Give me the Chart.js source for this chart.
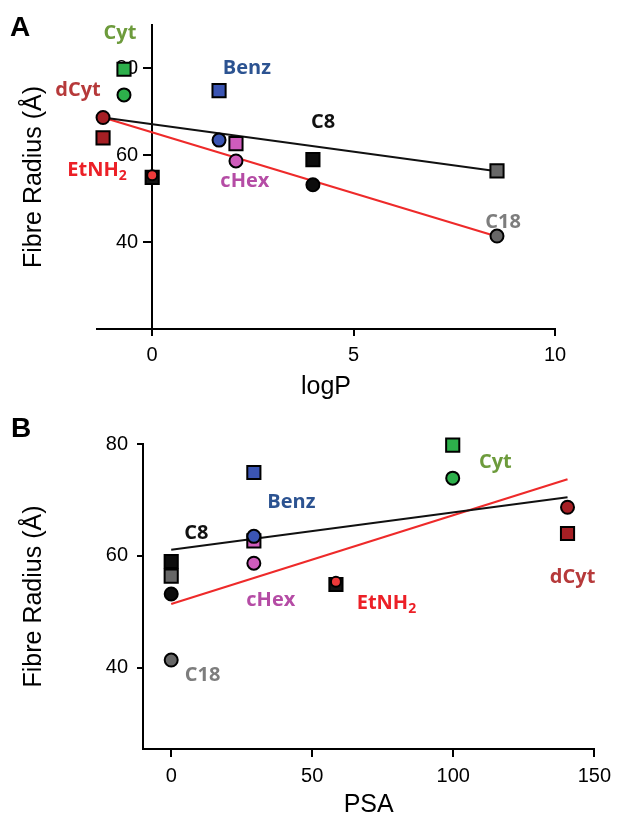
<!DOCTYPE html>
<html>
<head>
<meta charset="utf-8">
<script src="https://cdn.jsdelivr.net/npm/chart.js@4.4.1/dist/chart.umd.min.js"></script>
<style>
    html, body { margin: 0; padding: 0; background: #fff; }
    #wrap { position: relative; width: 618px; height: 820px; overflow: hidden; }
    .panel { position: absolute; left: 0; width: 618px; }
    .letter { position: absolute; font: bold 28px "Liberation Sans", Arial, sans-serif; line-height: 28px; color: #000; }
</style>
</head>
<body>
<div id="wrap">
    <div class="panel" style="top:0;height:400px"><canvas id="chartA" width="618" height="400"></canvas></div>
    <div class="panel" style="top:400px;height:420px"><canvas id="chartB" width="618" height="420"></canvas></div>
    <div class="letter" style="left:10px;top:13px">A</div>
    <div class="letter" style="left:11px;top:414px">B</div>
</div>
<script>
const compounds = ['Cyt', 'dCyt', 'EtNH2', 'Benz', 'cHex', 'C8', 'C18'];
const logP = [-0.70, -1.22, 0, 1.66, 2.08, 3.99, 8.56];
const psa = [99.8, 140.5, 58.4, 29.3, 29.3, 0, 0];
const radiusSquare = [79.8, 64.0, 54.9, 74.9, 62.7, 59.0, 56.4];
const radiusCircle = [73.9, 68.7, 55.4, 63.5, 58.7, 53.2, 41.4];

// end points of the two fitted lines in each panel
const fitLogP = [-1.22, 8.56];
const fitSquareA = [68.7, 56.3];
const fitCircleA = [68.7, 41.3];
const fitPsa = [0, 140.5];
const fitSquareB = [61.1, 70.5];
const fitCircleB = [51.4, 73.7];

const ticksLogP = [0, 5, 10];
const ticksPsa = [0, 50, 100, 150];
const ticksRadius = [40, 60, 80];

// where the compound names sit (data units)
const nameLogP = [-0.80, -1.84, -1.37, 2.35, 2.30, 4.24, 8.71];
const nameRadiusA = [88.2, 75.0, 56.6, 80.1, 53.9, 67.7, 44.6];
const namePsa = [114.9, 142.3, 76.3, 42.6, 35.3, 8.9, 11.1];
const nameRadiusB = [76.8, 56.1, 51.6, 69.6, 52.1, 64.1, 38.7];

const circleColors = ['#2db04b', '#a51f24', '#ee3a3a', '#3b55b3', '#cf5cbc', '#0d0d0d', '#676767'];
const squareColors = ['#2db04b', '#a51f24', '#151515', '#3b55b3', '#cf5cbc', '#0d0d0d', '#676767'];
const circleSizes = [6.5, 6.5, 5, 6.5, 6.5, 6.5, 6.5];
const nameColors = ['#6d9b3c', '#b6393a', '#ec2027', '#2c5391', '#b54ca5', '#111111', '#7d7d7d'];

const tickFont = { family: '"Liberation Sans", Arial, sans-serif', size: 20 };
const titleFont = { family: '"Liberation Sans", Arial, sans-serif', size: 25, lineHeight: 1 };
const nameFamily = '"Open Sans", sans-serif';

function toPoints(xs, ys) {
    return xs.map((x, i) => ({ x: x, y: ys[i] }));
}

// compound names drawn next to the marks
const namePlugin = {
    id: 'names',
    afterDatasetsDraw(chart, args, opts) {
        const { ctx, scales } = chart;
        ctx.save();
        ctx.textBaseline = 'middle';
        compounds.forEach((name, i) => {
            const px = scales.x.getPixelForValue(opts.xs[i]);
            const py = scales.y.getPixelForValue(opts.ys[i]);
            ctx.fillStyle = nameColors[i];
            ctx.font = 'bold 20px ' + nameFamily;
            if (name === 'EtNH2') {
                const w1 = ctx.measureText('EtNH').width;
                ctx.font = 'bold 14px ' + nameFamily;
                const w2 = ctx.measureText('2').width;
                const left = px - (w1 + w2) / 2;
                ctx.textAlign = 'left';
                ctx.fillText('2', left + w1, py + 6);
                ctx.font = 'bold 20px ' + nameFamily;
                ctx.fillText('EtNH', left, py);
            } else {
                ctx.textAlign = 'center';
                ctx.fillText(name, px, py);
            }
        });
        ctx.restore();
    }
};

// a y axis that crosses at x = 0 puts its labels on the line; move them left
const crossLabels = {
    id: 'crossLabels',
    beforeDraw(chart, args, opts) {
        if (!opts.shift) return;
        const x0 = chart.scales.x.getPixelForValue(0);
        chart.scales.y.getLabelItems().forEach(item => {
            item.options.translation[0] = x0 - opts.shift;
        });
    }
};

function buildDatasets(xs, fitX, fitSq, fitCi) {
    return [
        {
            data: toPoints(xs, radiusCircle),
            pointStyle: 'circle',
            pointRadius: circleSizes,
            pointBackgroundColor: circleColors,
            pointBorderColor: '#000',
            pointBorderWidth: 2,
            clip: false,
            order: 0
        },
        {
            data: toPoints(xs, radiusSquare),
            pointStyle: 'rect',
            pointRadius: 9.3,
            pointBackgroundColor: squareColors,
            pointBorderColor: '#000',
            pointBorderWidth: 2,
            clip: false,
            order: 1
        },
        {
            data: toPoints(fitX, fitSq),
            showLine: true,
            borderColor: '#111',
            borderWidth: 2,
            pointRadius: 0,
            clip: false,
            order: 2
        },
        {
            data: toPoints(fitX, fitCi),
            showLine: true,
            borderColor: '#ee2a2a',
            borderWidth: 2.2,
            pointRadius: 0,
            clip: false,
            order: 2
        }
    ];
}

function axisStyle(tickLength, padding) {
    return {
        grid: { display: true, drawOnChartArea: false, drawTicks: true, tickLength: tickLength, color: '#000', lineWidth: 2 },
        border: { display: true, color: '#000', width: 2 },
        ticks: { color: '#000', font: tickFont, padding: padding }
    };
}

// Panel A: radius against logP, y axis crossing at logP = 0
const styleAx = axisStyle(7, 7);
const styleAy = axisStyle(8, 0);
new Chart(document.getElementById('chartA'), {
    type: 'scatter',
    data: { datasets: buildDatasets(logP, fitLogP, fitSquareA, fitCircleA) },
    options: {
        responsive: false,
        animation: false,
        layout: { padding: { left: 0, right: 63, top: 25, bottom: 0 } },
        plugins: {
            legend: { display: false },
            tooltip: { enabled: false },
            names: { xs: nameLogP, ys: nameRadiusA },
            crossLabels: { shift: 14 }
        },
        scales: {
            x: {
                type: 'linear', position: 'bottom', min: -1.37, max: 10,
                ...styleAx,
                afterBuildTicks: s => { s.ticks = ticksLogP.map(v => ({ value: v })); },
                afterFit: s => { s.height = 71; },
                title: { display: true, text: 'logP', color: '#000', font: titleFont, padding: { top: 0, bottom: 0 } }
            },
            y: {
                type: 'linear', position: { x: 0 }, min: 20, max: 90,
                ...styleAy,
                afterBuildTicks: s => { s.ticks = ticksRadius.map(v => ({ value: v })); }
            },
            yTitle: {
                type: 'linear', position: 'left', axis: 'y',
                grid: { display: false }, border: { display: false }, ticks: { display: false },
                afterFit: s => { s.width = 97; },
                title: { display: true, text: 'Fibre Radius (Å)', color: '#000', font: titleFont, padding: { top: 22, bottom: 0 } }
            }
        }
    },
    plugins: [namePlugin, crossLabels]
});

// Panel B: radius against PSA
const styleBx = axisStyle(8, 7);
const styleBy = axisStyle(6, 9);
new Chart(document.getElementById('chartB'), {
    type: 'scatter',
    data: { datasets: buildDatasets(psa, fitPsa, fitSquareB, fitCircleB) },
    options: {
        responsive: false,
        animation: false,
        layout: { padding: { left: 0, right: 19, top: 44, bottom: 0 } },
        plugins: {
            legend: { display: false },
            tooltip: { enabled: false },
            names: { xs: namePsa, ys: nameRadiusB }
        },
        scales: {
            x: {
                type: 'linear', position: 'bottom', min: -10, max: 150,
                ...styleBx,
                afterBuildTicks: s => { s.ticks = ticksPsa.map(v => ({ value: v })); },
                afterFit: s => { s.height = 71; },
                title: { display: true, text: 'PSA', color: '#000', font: titleFont, padding: { top: 0, bottom: 2 } }
            },
            y: {
                type: 'linear', position: 'left', min: 25.5, max: 80,
                ...styleBy,
                afterBuildTicks: s => { s.ticks = ticksRadius.map(v => ({ value: v })); },
                afterFit: s => { s.width = 143; },
                title: { display: true, text: 'Fibre Radius (Å)', color: '#000', font: titleFont, padding: { top: 22, bottom: 0 } }
            }
        }
    },
    plugins: [namePlugin]
});
</script>
</body>
</html>
